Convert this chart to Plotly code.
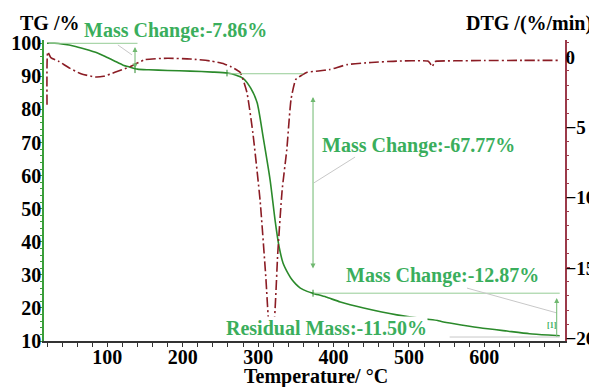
import plotly.graph_objects as go

# ---- data ----
tg_T = [20, 30, 42, 55, 70, 87, 100, 110, 121, 130, 140, 155, 180, 210, 240, 259, 270, 280, 290,
        298.7, 306.6, 316, 322.5, 327.8, 333, 340, 345, 350, 356, 365, 373, 390, 409, 440, 484,
        520, 538, 543, 560, 594, 630, 660, 685, 700]
tg_val = [100, 100, 99.7, 99.2, 98.3, 97.1, 95.7, 94.6, 93.4, 92.8, 92.2, 92.0, 91.8, 91.6, 91.3,
          91.0, 90.4, 89.4, 86.5, 82, 71.7, 58.5, 46.5, 38.5, 33.6, 30.3, 28.5, 27.2, 26, 25, 24.4,
          23.3, 21.8, 20.0, 17.9, 16.7, 16.2, 15.9, 15.2, 14.0, 13.0, 12.2, 11.8, 11.6]

dtg_T = [20, 21, 25, 35, 50, 65, 84, 95, 110, 130, 150, 180, 210, 238, 255, 264, 276, 285, 293,
         302.6, 310, 316, 321, 326, 331.8, 338, 343.7, 350, 358, 365, 380, 395, 418, 450, 484,
         525, 528, 531, 534, 537, 560, 600, 650, 700]
dtg_val = [-3.4, 0.35, -0.05, -0.3, -0.8, -1.2, -1.43, -1.38, -1.1, -0.7, -0.2, -0.1, -0.15,
           -0.3, -0.5, -0.7, -1.1, -2.5, -5.4, -10.2, -15.5, -20.0, -19.0, -14, -9.5, -6.6, -3.0,
           -1.6, -1.3, -1.1, -1.0, -0.9, -0.55, -0.4, -0.3, -0.3, -0.45, -0.7, -0.35, -0.3, -0.28,
           -0.26, -0.25, -0.25]

mass_labels = ["Mass Change:-7.86%", "Mass Change:-67.77%", "Mass Change:-12.87%"]
residual_label = "Residual Mass:-11.50%"
tg_ticks = [10, 20, 30, 40, 50, 60, 70, 80, 90, 100]
dtg_ticks = [0, -5, -10, -15, -20]
t_ticks = [100, 200, 300, 400, 500, 600]

# ---- style ----
GREEN_TXT = "#3aae5c"
GREEN_LINE = "#2b8a2b"
GREEN_AX = "#3a9e3a"
LIGHT = "#95cc95"
GRAY = "#c8c8c8"
RED = "#8b1c24"
RED_AX = "#9b3a4a"
FONT = "Times New Roman, Liberation Serif, serif"

fig = go.Figure()
fig.add_trace(go.Scatter(x=tg_T, y=tg_val, mode="lines", line=dict(color=GREEN_LINE, width=1.6, shape="spline", smoothing=0.6),
                         yaxis="y", showlegend=False))
fig.add_trace(go.Scatter(x=dtg_T, y=dtg_val, mode="lines",
                         line=dict(color=RED, width=1.6, dash="10px,3px,2px,3px", shape="spline", smoothing=0.5),
                         yaxis="y2", showlegend=False))

shapes = []
def seg(x0, y0, x1, y1, color, w=1):
    shapes.append(dict(type="line", xref="x", yref="y", x0=x0, y0=y0, x1=x1, y1=y1,
                       line=dict(color=color, width=w), layer="above"))

# step 1
seg(22, 100, 140, 100, LIGHT)
seg(114, 99.5, 132.7, 96.5, GRAY)
# step 2
seg(259, 90.8, 360, 90.8, LIGHT)
seg(374, 57.8, 428.5, 65.6, GRAY)
# step 3
seg(373, 24.45, 700, 24.45, LIGHT)
seg(577, 26, 696, 18.5, GRAY)
seg(554, 11.2, 700, 11.2, GRAY)
# tick marks on curve
seg(136.7, 91.0, 136.7, 93.3, GREEN_LINE)
seg(258.7, 90.0, 258.7, 92.0, GREEN_LINE)
seg(372.8, 23.4, 372.8, 25.5, GREEN_LINE)

anns = []
def arrow(x, yhead, ytail, side="end"):
    anns.append(dict(x=x, y=yhead, ax=x, ay=ytail, xref="x", yref="y", axref="x", ayref="y",
                     text="", showarrow=True, arrowhead=2, arrowsize=1, arrowwidth=1,
                     arrowcolor="#6fb86f", arrowside=side))

arrow(136.7, 98.9, 91.9, "end+start")
arrow(372.8, 83.8, 31.5, "end+start")
arrow(696, 23.0, 10.9, "end")

def txt(s, x, y, xanchor="left", size=20, color=GREEN_TXT, bg=None):
    d = dict(text="<b>" + s + "</b>", x=x, y=y, xref="paper", yref="paper", xanchor=xanchor, yanchor="middle",
             showarrow=False, font=dict(family=FONT, size=size, color=color))
    if bg:
        d["bgcolor"] = bg
        d["borderpad"] = 0
    anns.append(d)

txt(mass_labels[0], 0.073, 1.033)
txt(mass_labels[1], 0.530, 0.651)
txt(mass_labels[2], 0.576, 0.219)
txt(residual_label, 0.347, 0.043, bg="white")
txt("[1]", 0.962, 0.05, size=8)
txt("TG /%", -0.05, 1.056, color="black")
txt("DTG /(%/min)", 1.056, 1.056, xanchor="right", color="black")
txt("Temperature/ °C", 0.522, -0.118, xanchor="center", color="black")

tickfont = dict(family=FONT, size=20, color="black", weight="bold")
tickfont_r = dict(family=FONT, size=19, color="black", weight="bold")
# page body has an 8px margin: figure is offset so the plot lands on the reference pixels
fig.update_layout(
    width=605, height=395,
    margin=dict(l=36, r=48, t=32, b=62),
    paper_bgcolor="white", plot_bgcolor="white",
    shapes=shapes, annotations=anns,
    xaxis=dict(range=[16, 707], tickvals=t_ticks, ticks="outside", ticklen=4, tickwidth=1,
               tickcolor="#333", showline=True, linecolor="#333", linewidth=1.5, automargin=False,
               showgrid=False, zeroline=False, tickfont=tickfont, ticklabelstandoff=-7,
               minor=dict(dtick=20, ticks="outside", ticklen=4, tickcolor="#333")),
    yaxis=dict(range=[10, 101], tickvals=tg_ticks, ticks="outside", ticklen=3, tickwidth=1,
               tickcolor=GREEN_AX, showline=True, linecolor=GREEN_AX, linewidth=1.5, automargin=False,
               showgrid=False, zeroline=False, tickfont=tickfont, ticklabelstandoff=-6,
               minor=dict(dtick=2, ticks="outside", ticklen=2, tickcolor=GREEN_AX)),
    yaxis2=dict(range=[-20.2, 1.2], tickvals=dtg_ticks, overlaying="y", side="right",
                ticks="outside", ticklen=3, tickwidth=1, tickcolor=RED_AX, showline=True, automargin=False,
                linecolor=RED_AX, linewidth=1.5, showgrid=False, zeroline=False, tickfont=tickfont_r,
                ticklabelstandoff=-8,
                minor=dict(dtick=1, ticks="outside", ticklen=2, tickcolor=RED_AX)),
)
fig.write_html("out.html")
